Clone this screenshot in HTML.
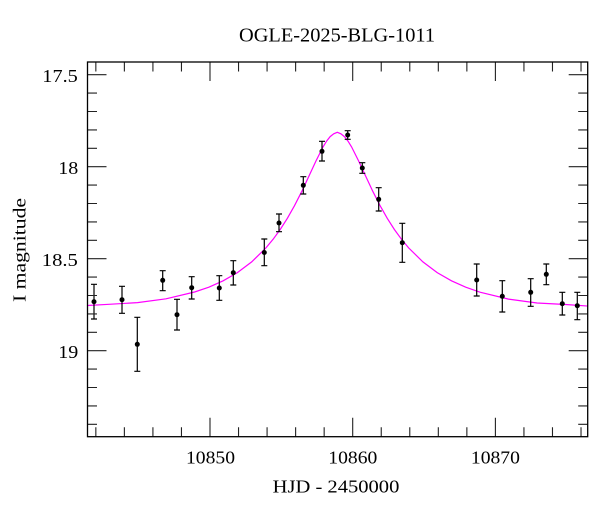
<!DOCTYPE html>
<html>
<head>
<meta charset="utf-8">
<style>
html,body{margin:0;padding:0;background:#fff;}
svg{display:block;}
text{font-family:"Liberation Serif","DejaVu Serif",serif;fill:#000;}
</style>
</head>
<body>
<svg width="600" height="512" viewBox="0 0 600 512" xmlns="http://www.w3.org/2000/svg">
<defs>
<clipPath id="pa"><rect x="87.5" y="62" width="500.2" height="374.7"/></clipPath>
</defs>
<rect x="0" y="0" width="600" height="512" fill="#fff"/>

<!-- title -->
<text x="337" y="41.7" font-size="20" text-anchor="middle" textLength="196" lengthAdjust="spacingAndGlyphs">OGLE-2025-BLG-1011</text>

<!-- model curve -->
<polyline clip-path="url(#pa)" fill="none" stroke="#ff00ff" stroke-width="1.2" points="
86.15,305.6 108.98,304.3 137.52,302.6 166.06,298.8 194.6,292.0 208.87,287.2 223.14,280.8 237.41,272.6 251.68,261.9 265.95,247.9 273.09,239.3 280.22,229.5 287.36,218.3 294.49,205.7 301.63,191.7 308.76,176.5 315.9,161.1 323.03,146.9 326.6,141.1 330.17,136.6 333.73,133.8 337.3,132.3 340.87,133.8 344.44,136.6 348.0,141.1 351.57,146.9 358.7,161.1 365.84,176.5 372.98,191.7 380.11,205.7 387.25,218.3 394.38,229.5 401.52,239.3 408.65,247.9 422.92,261.9 437.19,272.6 451.46,280.8 465.73,287.2 480.0,292.2 508.54,299.1 537.08,303.0 565.62,304.5 588.45,306.1"/>

<!-- error bars -->
<g stroke="#000" stroke-width="1.2" fill="none">
<path d="M94,284.3V319M91,284.3h6M91,319h6"/>
<path d="M122,286.3V313.3M119,286.3h6M119,313.3h6"/>
<path d="M137.3,317.3V371.3M134.3,317.3h6M134.3,371.3h6"/>
<path d="M162.7,270.7V290.7M159.7,270.7h6M159.7,290.7h6"/>
<path d="M177,299.3V330M174,299.3h6M174,330h6"/>
<path d="M191.7,276.7V299M188.7,276.7h6M188.7,299h6"/>
<path d="M219.3,275.7V300.3M216.3,275.7h6M216.3,300.3h6"/>
<path d="M233.3,260.7V285M230.3,260.7h6M230.3,285h6"/>
<path d="M264.3,239V265.7M261.3,239h6M261.3,265.7h6"/>
<path d="M279,214V231.7M276,214h6M276,231.7h6"/>
<path d="M303.3,176.7V194M300.3,176.7h6M300.3,194h6"/>
<path d="M322,141.3V161M319,141.3h6M319,161h6"/>
<path d="M347.7,130.7V139.3M344.7,130.7h6M344.7,139.3h6"/>
<path d="M362.3,162.7V173.3M359.3,162.7h6M359.3,173.3h6"/>
<path d="M378.7,187.7V211M375.7,187.7h6M375.7,211h6"/>
<path d="M402.3,223.3V262.3M399.3,223.3h6M399.3,262.3h6"/>
<path d="M476.7,264V296M473.7,264h6M473.7,296h6"/>
<path d="M502.3,280.7V312M499.3,280.7h6M499.3,312h6"/>
<path d="M530.7,278.7V306.3M527.7,278.7h6M527.7,306.3h6"/>
<path d="M546.3,264V284.7M543.3,264h6M543.3,284.7h6"/>
<path d="M562.3,292.3V315M559.3,292.3h6M559.3,315h6"/>
<path d="M577.3,292.3V319.7M574.3,292.3h6M574.3,319.7h6"/>
</g>

<!-- data points -->
<g fill="#000">
<circle cx="94" cy="301.7" r="2.5"/>
<circle cx="122" cy="299.7" r="2.5"/>
<circle cx="137.3" cy="344.3" r="2.5"/>
<circle cx="162.7" cy="280.3" r="2.5"/>
<circle cx="177" cy="314.7" r="2.5"/>
<circle cx="191.7" cy="287.7" r="2.5"/>
<circle cx="219.3" cy="288" r="2.5"/>
<circle cx="233.3" cy="272.7" r="2.5"/>
<circle cx="264.3" cy="252.5" r="2.5"/>
<circle cx="279" cy="223" r="2.5"/>
<circle cx="303.3" cy="185.3" r="2.5"/>
<circle cx="322" cy="151.3" r="2.5"/>
<circle cx="347.7" cy="135" r="2.5"/>
<circle cx="362.3" cy="168" r="2.5"/>
<circle cx="378.7" cy="199.3" r="2.5"/>
<circle cx="402.3" cy="242.7" r="2.5"/>
<circle cx="476.7" cy="280" r="2.5"/>
<circle cx="502.3" cy="296.3" r="2.5"/>
<circle cx="530.7" cy="292.3" r="2.5"/>
<circle cx="546.3" cy="274.3" r="2.5"/>
<circle cx="562.3" cy="303.7" r="2.5"/>
<circle cx="577.3" cy="305.7" r="2.5"/>
</g>

<!-- ticks -->
<g stroke="#222" stroke-width="1.1" fill="none">
<!-- y major left/right -->
<path d="M87.5,74.7h19M87.5,166.7h19M87.5,258.7h19M87.5,350.7h19"/>
<path d="M587.7,74.7h-19M587.7,166.7h-19M587.7,258.7h-19M587.7,350.7h-19"/>
<!-- y minor left -->
<path d="M87.5,93.1h9.5M87.5,111.5h9.5M87.5,129.9h9.5M87.5,148.3h9.5M87.5,185.1h9.5M87.5,203.5h9.5M87.5,221.9h9.5M87.5,240.3h9.5M87.5,277.1h9.5M87.5,295.5h9.5M87.5,313.9h9.5M87.5,332.3h9.5M87.5,369.1h9.5M87.5,387.5h9.5M87.5,405.9h9.5M87.5,424.3h9.5"/>
<!-- y minor right -->
<path d="M587.7,93.1h-9.5M587.7,111.5h-9.5M587.7,129.9h-9.5M587.7,148.3h-9.5M587.7,185.1h-9.5M587.7,203.5h-9.5M587.7,221.9h-9.5M587.7,240.3h-9.5M587.7,277.1h-9.5M587.7,295.5h-9.5M587.7,313.9h-9.5M587.7,332.3h-9.5M587.7,369.1h-9.5M587.7,387.5h-9.5M587.7,405.9h-9.5M587.7,424.3h-9.5"/>
<!-- x major bottom/top -->
<path d="M210,436.7v-19M352.7,436.7v-19M495.4,436.7v-19"/>
<path d="M210,62v19M352.7,62v19M495.4,62v19"/>
<!-- x minor bottom -->
<path d="M95.84,436.7v-9.5M124.38,436.7v-9.5M152.92,436.7v-9.5M181.46,436.7v-9.5M238.54,436.7v-9.5M267.08,436.7v-9.5M295.62,436.7v-9.5M324.16,436.7v-9.5M381.24,436.7v-9.5M409.78,436.7v-9.5M438.32,436.7v-9.5M466.86,436.7v-9.5M523.94,436.7v-9.5M552.48,436.7v-9.5M581.02,436.7v-9.5"/>
<!-- x minor top -->
<path d="M95.84,62v9.5M124.38,62v9.5M152.92,62v9.5M181.46,62v9.5M238.54,62v9.5M267.08,62v9.5M295.62,62v9.5M324.16,62v9.5M381.24,62v9.5M409.78,62v9.5M438.32,62v9.5M466.86,62v9.5M523.94,62v9.5M552.48,62v9.5M581.02,62v9.5"/>
</g>

<!-- frame -->
<rect x="87.5" y="62" width="500.2" height="374.7" fill="none" stroke="#000" stroke-width="1.3"/>

<!-- y tick labels -->
<g font-size="18" text-anchor="end">
<text x="77.8" y="82" textLength="35.5" lengthAdjust="spacingAndGlyphs">17.5</text>
<text x="78.3" y="174" textLength="20" lengthAdjust="spacingAndGlyphs">18</text>
<text x="77.8" y="266" textLength="36" lengthAdjust="spacingAndGlyphs">18.5</text>
<text x="78.3" y="358" textLength="20" lengthAdjust="spacingAndGlyphs">19</text>
</g>

<!-- x tick labels -->
<g font-size="18" text-anchor="middle">
<text x="210.5" y="463.3" textLength="49" lengthAdjust="spacingAndGlyphs">10850</text>
<text x="352.8" y="463.3" textLength="49" lengthAdjust="spacingAndGlyphs">10860</text>
<text x="495.4" y="463.3" textLength="49" lengthAdjust="spacingAndGlyphs">10870</text>
</g>

<!-- axis titles -->
<text x="336" y="492.5" font-size="18" text-anchor="middle" textLength="126.7" lengthAdjust="spacingAndGlyphs">HJD - 2450000</text>
<text transform="translate(25.7,250) rotate(-90)" x="0" y="0" font-size="18" text-anchor="middle" textLength="104" lengthAdjust="spacingAndGlyphs">I magnitude</text>
</svg>
</body>
</html>
